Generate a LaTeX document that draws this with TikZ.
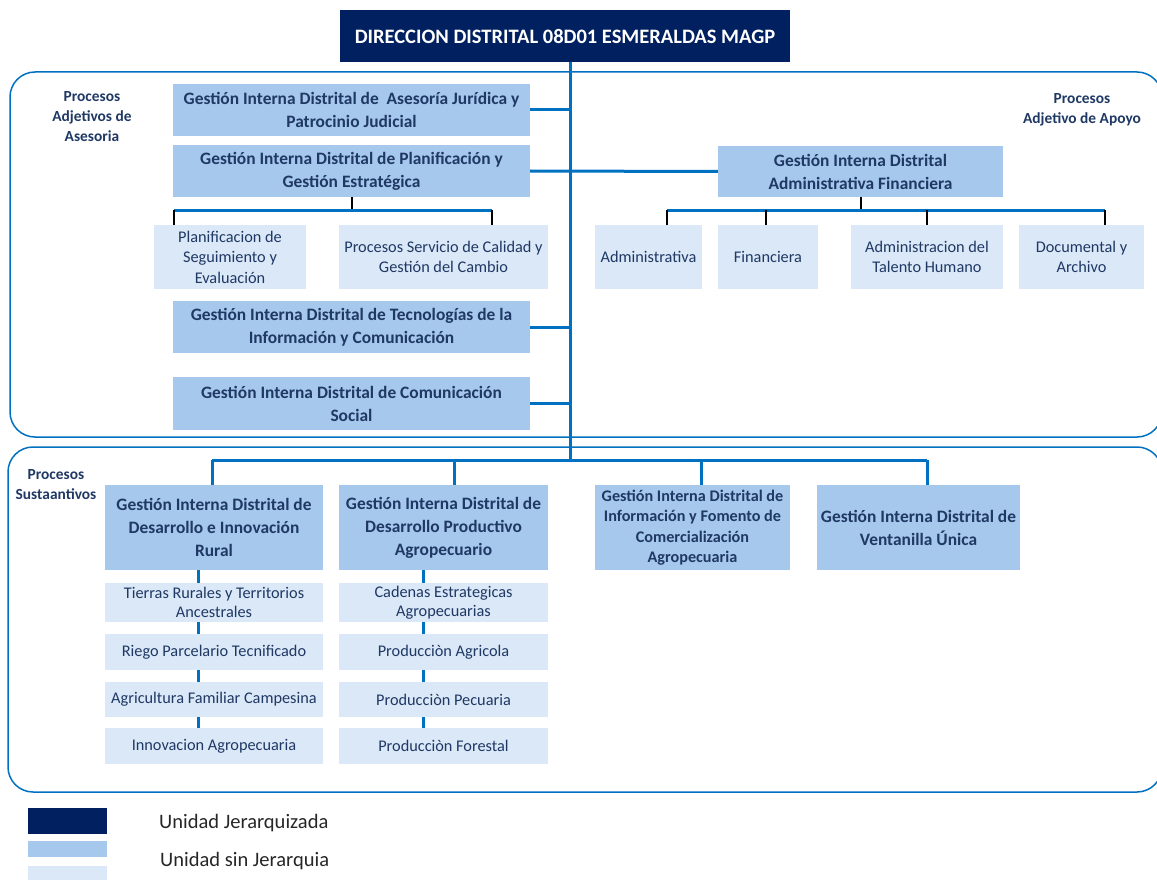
\documentclass[tikz,border=0pt]{standalone}
\usepackage{fontspec}
\setmainfont{Carlito}
\usetikzlibrary{positioning}

\definecolor{navy}{HTML}{002060}
\definecolor{midblue}{HTML}{A6C8EC}
\definecolor{lightblue}{HTML}{DAE8F7}
\definecolor{lineblue}{HTML}{0070C0}
\definecolor{txtnavy}{HTML}{1F3864}

\begin{document}
\begin{tikzpicture}[
    x=1pt, y=-1pt,
    % Top unit style
    topbox/.style={
        rectangle,
        fill=navy,
        inner sep=0pt,
        text=white,
        align=center,
        font=\fontsize{20.5}{24}\selectfont\bfseries
    },
    % Unit without hierarchy
    unitbox/.style={
        rectangle,
        fill=midblue,
        inner sep=0pt,
        text=txtnavy,
        align=center,
        font=\fontsize{17.4}{23}\selectfont\bfseries
    },
    % Sub unit style
    subbox/.style={
        rectangle,
        fill=lightblue,
        inner sep=0pt,
        text=txtnavy,
        align=center,
        font=\fontsize{16.3}{20.5}\selectfont
    },
    % Process label style
    proclabel/.style={
        align=center,
        text=txtnavy,
        inner sep=0pt,
        font=\fontsize{15.4}{20}\selectfont\bfseries
    },
    % Frame style
    frame/.style={
        draw=lineblue,
        line width=1.5pt,
        rounded corners=25pt
    },
    % Connector styles
    link/.style={
        draw=lineblue,
        line width=3pt
    },
    stub/.style={
        draw=black,
        line width=2pt
    }
]
\useasboundingbox (0,0) rectangle (1157,880);

% === Frames ===
\draw[frame] (10,72) rectangle (1162,437);
\draw[frame] (8,447) rectangle (1162,792);

% === Process labels ===
\node[proclabel] (asesoria) at (92,117) {Procesos\\Adjetivos de\\Asesoria};
\node[proclabel] (apoyo) at (1082,110) {Procesos\\Adjetivo de Apoyo};
\node[proclabel] (sustantivo) at (56,485) {Procesos\\Sustaantivos};

% === Top unit ===
\node[topbox, minimum width=450, minimum height=52] (dir) at (565,36) {DIRECCION DISTRITAL 08D01 ESMERALDAS MAGP};

% === Advisory units ===
\node[unitbox, minimum width=357, minimum height=52] (jur) at (351.5,110) {Gestión Interna Distrital de\ \ Asesoría Jurídica y\\Patrocinio Judicial};
\node[unitbox, minimum width=357, minimum height=52] (plan) at (351.5,171) {Gestión Interna Distrital de Planificación y\\Gestión Estratégica};
\node[unitbox, minimum width=357, minimum height=52] (tec) at (351.5,327) {Gestión Interna Distrital de Tecnologías de la\\Información y Comunicación};
\node[unitbox, minimum width=357, minimum height=53] (com) at (351.5,403.5) {Gestión Interna Distrital de Comunicación\\Social};

\node[subbox, minimum width=152, minimum height=64] (seg) at (230,257) {Planificacion de\\Seguimiento y\\Evaluación};
\node[subbox, minimum width=209, minimum height=64] (cal) at (443.5,257) {Procesos Servicio de Calidad y\\Gestión del Cambio};

% === Support units ===
\node[unitbox, minimum width=285, minimum height=51] (adm) at (860.5,171.5) {Gestión Interna Distrital\\Administrativa Financiera};
\node[subbox, minimum width=107, minimum height=64] (adma) at (648.5,257) {Administrativa};
\node[subbox, minimum width=100, minimum height=64] (fin) at (768,257) {Financiera};
\node[subbox, minimum width=152, minimum height=64] (tal) at (927,257) {Administracion del\\Talento Humano};
\node[subbox, minimum width=125, minimum height=64] (doc) at (1081.5,257) {Documental y\\Archivo};

% === Substantive units ===
\node[unitbox, minimum width=218, minimum height=85] (rural) at (214,527.5) {Gestión Interna Distrital de\\Desarrollo e Innovación\\Rural};
\node[unitbox, minimum width=209, minimum height=85] (prod) at (443.5,527.5) {Gestión Interna Distrital de\\Desarrollo Productivo\\Agropecuario};
\node[unitbox, minimum width=195, minimum height=85, font=\fontsize{16.2}{20.5}\selectfont\bfseries] (comer) at (692.5,527.5) {Gestión Interna Distrital de\\Información y Fomento de\\Comercialización\\Agropecuaria};
\node[unitbox, minimum width=203, minimum height=85] (vent) at (918.5,527.5) {Gestión Interna Distrital de\\Ventanilla Única};

\node[subbox, minimum width=218, minimum height=39, font=\fontsize{16.3}{19.5}\selectfont] (tier) at (214,602.5) {Tierras Rurales y Territorios\\Ancestrales};
\node[subbox, minimum width=218, minimum height=36] (rieg) at (214,652) {Riego Parcelario Tecnificado};
\node[subbox, minimum width=218, minimum height=35] (agri) at (214,699.5) {Agricultura Familiar Campesina};
\node[subbox, minimum width=218, minimum height=36] (inno) at (214,746) {Innovacion Agropecuaria};

\node[subbox, minimum width=209, minimum height=39, font=\fontsize{16.3}{19.5}\selectfont] (cade) at (443.5,602.5) {Cadenas Estrategicas\\Agropecuarias};
\node[subbox, minimum width=209, minimum height=36] (pagr) at (443.5,652) {Producciòn Agricola};
\node[subbox, minimum width=209, minimum height=35] (pecu) at (443.5,699.5) {Producciòn Pecuaria};
\node[subbox, minimum width=209, minimum height=36] (fore) at (443.5,746) {Producciòn Forestal};

% === Bus coordinates ===
\coordinate (bus) at (570,460);
\coordinate (pl) at (174,210);
\coordinate (pr) at (492,210);
\coordinate (ab1) at (667,210);
\coordinate (ab2) at (766,210);
\coordinate (ab3) at (927,210);
\coordinate (ab4) at (1105,210);
\coordinate (sb1) at (212,460);
\coordinate (sb2) at (454,460);
\coordinate (sb3) at (701,460);
\coordinate (sb4) at (927,460);

% === Trunk and branches ===
\draw[link] (dir.south -| bus) -- (bus);
\draw[link] (jur.east) -- (jur.east -| bus);
\draw[link] (plan.east) -- (adm.west);
\draw[link] (tec.east) -- (tec.east -| bus);
\draw[link] (com.east) -- (com.east -| bus);

% === Planning sub units ===
\draw[stub] (plan.south) -- (plan.south |- pl);
\draw[link] (pl) -- (pr);
\draw[stub] (pl) -- (pl |- seg.north);
\draw[stub] (pr) -- (pr |- cal.north);

% === Support sub units ===
\draw[stub] (adm.south) -- (adm.south |- ab1);
\draw[link] (ab1) -- (ab4);
\draw[stub] (ab1) -- (ab1 |- adma.north);
\draw[stub] (ab2) -- (ab2 |- fin.north);
\draw[stub] (ab3) -- (ab3 |- tal.north);
\draw[stub] (ab4) -- (ab4 |- doc.north);

% === Substantive branches ===
\draw[link] (sb1) -- (sb4);
\draw[link] (sb1) -- (sb1 |- rural.north);
\draw[link] (sb2) -- (sb2 |- prod.north);
\draw[link] (sb3) -- (sb3 |- comer.north);
\draw[link] (sb4) -- (sb4 |- vent.north);

\draw[link] ([xshift=-16pt]rural.south) -- ([xshift=-16pt]tier.north);
\draw[link] ([xshift=-16pt]tier.south) -- ([xshift=-16pt]rieg.north);
\draw[link] ([xshift=-16pt]rieg.south) -- ([xshift=-16pt]agri.north);
\draw[link] ([xshift=-16pt]agri.south) -- ([xshift=-16pt]inno.north);

\draw[link] ([xshift=-20pt]prod.south) -- ([xshift=-20pt]cade.north);
\draw[link] ([xshift=-20pt]cade.south) -- ([xshift=-20pt]pagr.north);
\draw[link] ([xshift=-20pt]pagr.south) -- ([xshift=-20pt]pecu.north);
\draw[link] ([xshift=-20pt]pecu.south) -- ([xshift=-20pt]fore.north);

% === Legend ===
\fill[navy] (28,808) rectangle (107,834);
\fill[midblue] (28,841) rectangle (107,857);
\fill[lightblue] (28,866) rectangle (107,884);
\node[anchor=west, inner sep=0pt, text=black!85, font=\fontsize{20.5}{24}\selectfont] (jerar) at (159,823) {Unidad Jerarquizada};
\node[anchor=west, inner sep=0pt, text=black!85, font=\fontsize{20.5}{24}\selectfont] (sinjerar) at (160,861) {Unidad sin Jerarquia};

\end{tikzpicture}
\end{document}
